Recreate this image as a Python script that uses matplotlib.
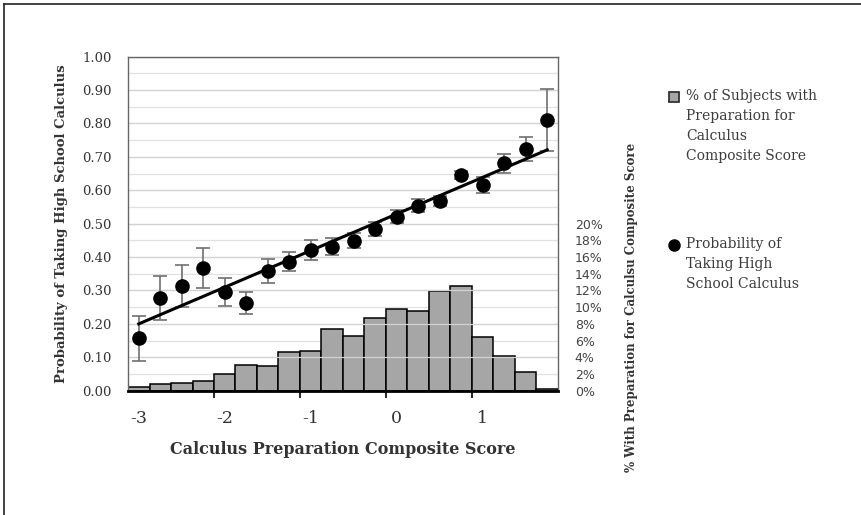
import matplotlib
matplotlib.use("Agg")
import matplotlib.pyplot as plt
from matplotlib.lines import Line2D

# bin centres of the composite score (category positions)
score = [-3.00, -2.75, -2.50, -2.25, -2.00, -1.75, -1.50, -1.25, -1.00, -0.75,
         -0.50, -0.25, 0.00, 0.25, 0.50, 0.75, 1.00, 1.25, 1.50, 1.75]
# % of subjects in each bin (right axis)
pct_subjects = [0.5, 0.8, 0.9, 1.1, 2.0, 3.1, 3.0, 4.6, 4.7, 7.4,
                6.6, 8.7, 9.8, 9.5, 11.9, 12.5, 6.4, 4.2, 2.2, 0.2]
# probability of taking HS calculus and its error (left axis)
prob = [0.157, 0.278, 0.313, 0.366, 0.296, 0.262, 0.359, 0.386, 0.421, 0.431,
        0.449, 0.484, 0.521, 0.554, 0.568, 0.646, 0.616, 0.681, 0.724, 0.810]
prob_err = [0.068, 0.066, 0.062, 0.060, 0.041, 0.032, 0.036, 0.028, 0.029, 0.026,
            0.022, 0.020, 0.020, 0.020, 0.015, 0.012, 0.025, 0.028, 0.036, 0.093]
# linear trend as drawn in the figure: value at first and last bin
trend_ends = [0.200, 0.721]
x_labels = [-3, -2, -1, 0, 1]
left_ticks = [0.0, 0.1, 0.2, 0.3, 0.4, 0.5, 0.6, 0.7, 0.8, 0.9, 1.0]
right_ticks = list(range(0, 41, 2))

SERIF = "DejaVu Serif"
BAR = "#a6a6a6"
TXT = "#333333"

fig = plt.figure(figsize=(8.62, 5.15), dpi=100)
ax = fig.add_axes([0.1485, 0.2414, 0.4988, 0.6486])
ax2 = ax.twinx()

# histogram of subjects on the secondary axis (only 0-20% labelled)
ax2.bar(score, pct_subjects, width=0.25, color=BAR, edgecolor="black",
        linewidth=1.1, zorder=3)
ax2.set_ylim(0, 40)
ax2.set_yticks(right_ticks)
ax2.set_yticklabels([f"{t}%" if t <= 20 else "" for t in right_ticks],
                    fontsize=9, color="#444444", family="DejaVu Sans")
ax2.tick_params(axis="y", length=0, pad=12)
ax2.grid(axis="y", color="#e0e0e0", lw=0.9, zorder=0)
ax2.set_axisbelow(True)
ax2.set_ylabel("% With Preparation for Calculsu Composite Score", family=SERIF,
               fontsize=8.5, fontweight="bold", color=TXT, rotation=90)
ax2.yaxis.set_label_coords(1.155, 0.25)
for s in ax2.spines.values():
    s.set_visible(False)

# probability points, error bars and linear trend on the primary axis
ax.set_zorder(ax2.get_zorder() + 1)
ax.patch.set_visible(False)
ax.grid(axis="y", color="#d2d2d2", lw=0.9, zorder=0)
ax.errorbar(score, prob, yerr=prob_err, fmt="none", ecolor="#707070",
            elinewidth=1.2, capsize=5, capthick=1.2, zorder=2)
ax.plot([score[0], score[-1]], trend_ends, color="black", lw=2.2, zorder=3)
ax.plot(score, prob, "o", color="black", ms=9.5, zorder=4)

ax.set_xlim(-3.125, 1.875)
ax.set_ylim(0, 1)
ax.set_yticks(left_ticks)
ax.set_yticklabels([f"{t:.2f}" for t in left_ticks], fontsize=9.5, color=TXT,
                   family=SERIF)
ax.tick_params(axis="y", length=0, pad=12)
ax.set_xticks(x_labels)
ax.set_xticklabels([str(v) for v in x_labels], fontsize=12.5, color=TXT,
                   family=SERIF)
ax.tick_params(axis="x", which="major", length=0, pad=14)
# small tick marks sit on the bin edges between the labels
ax.set_xticks([-2.125, -1.125, -0.125, 0.875], minor=True)
ax.tick_params(axis="x", which="minor", length=5, width=1.2, color="black",
               direction="out")
ax.set_xlabel("Calculus Preparation Composite Score", family=SERIF, fontsize=11.5,
              fontweight="bold", color=TXT, labelpad=10)
ax.set_ylabel("Probability of Taking High School Calculus", family=SERIF,
              fontsize=9.5, fontweight="bold", color=TXT, labelpad=10)
for side in ("top", "right", "left"):
    ax.spines[side].set_color("#666666")
    ax.spines[side].set_linewidth(1.0)
ax.spines["bottom"].set_color("black")
ax.spines["bottom"].set_linewidth(2.0)

# hand-made legend to the right
fig.add_artist(Line2D([674 / 862], [1 - 97 / 515], marker="s", ms=6.5,
                      mfc=BAR, mec="#333333", mew=1.3, transform=fig.transFigure))
fig.text(686 / 862, 1 - 89 / 515,
         "% of Subjects with\nPreparation for\nCalculus\nComposite Score",
         family=SERIF, fontsize=10, color="#3c3c3c", va="top", ha="left",
         linespacing=1.56, transform=fig.transFigure)
fig.add_artist(Line2D([674 / 862], [1 - 245 / 515], marker="o", ms=8,
                      mfc="black", mec="black", transform=fig.transFigure))
fig.text(686 / 862, 1 - 237 / 515,
         "Probability of\nTaking High\nSchool Calculus",
         family=SERIF, fontsize=10, color="#3c3c3c", va="top", ha="left",
         linespacing=1.56, transform=fig.transFigure)

# frame lines on top and left of the picture
fig.add_artist(Line2D([4.5 / 862, 1], [1 - 4 / 515, 1 - 4 / 515], color="#222222",
                      lw=1.2, transform=fig.transFigure))
fig.add_artist(Line2D([4.5 / 862, 4.5 / 862], [0, 1 - 4 / 515], color="#222222",
                      lw=1.2, transform=fig.transFigure))

fig.savefig("out.png", dpi=100)
